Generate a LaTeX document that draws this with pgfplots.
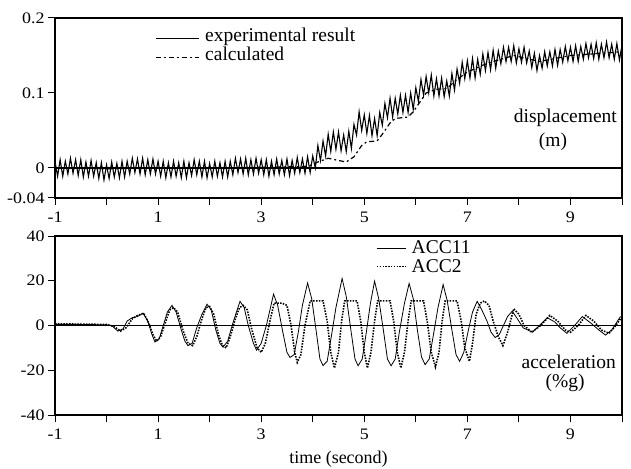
\documentclass[border=0pt]{standalone}
\usepackage{pgfplots}
\pgfplotsset{compat=1.18}
\usepackage{fontspec}
\setmainfont{Liberation Serif}
\newfontfamily\tickfont[FakeStretch=1.12]{Liberation Serif}
\newcommand\txtfont{\fontsize{19.5}{19.5}\selectfont}
\pgfplotsset{
  myaxis/.style={
    scale only axis, width=567pt,
    xmin=-1, xmax=10,
    axis line style={line width=1.2pt},
    tick style={black, line width=1pt},
    major tick length=7pt,
    tick align=outside,
    xtick pos=left, ytick pos=left,
    xtick={-1,0,1,2,3,4,5,6,7,8,9,10},
    xticklabels={-1,,1,,3,,5,,7,,9,},
    tick label style={font=\fontsize{16}{16}\selectfont\tickfont},
    xticklabel style={yshift=-3pt},
    label style={font=\fontsize{18}{18}\selectfont},
    xlabel style={yshift=-5pt},
    legend style={draw=none, fill=none, font=\txtfont,
      row sep=0pt, inner sep=0pt},
    legend cell align=left,
  },
}
\begin{document}
\begin{tikzpicture}
\path[use as bounding box] (0pt,0pt) rectangle (631pt,468pt);
% top axis
\begin{axis}[myaxis, name=top, at={(55pt,270pt)}, anchor=south west, height=180pt,
  ymin=-0.04, ymax=0.2,
  ytick={-0.04,0,0.1,0.2}, yticklabels={-0.04,0,0.1,0.2},
  legend style={at={(rel axis cs:0.176,0.955)}, anchor=north west},
  legend image code/.code={\draw[#1] (0pt,-3pt) -- (43pt,-3pt); \path (47pt,0pt);},
]
\addplot[black, line width=1.1pt] coordinates {
(-1.00,0.009)(-0.95,-0.011)(-0.90,0.011)(-0.85,-0.011)(-0.80,0.009)(-0.75,-0.008)(-0.70,0.013)(-0.65,-0.007)(-0.60,0.011)(-0.55,-0.010)
(-0.50,0.011)(-0.45,-0.012)(-0.40,0.008)(-0.35,-0.011)(-0.30,0.010)(-0.25,-0.011)(-0.20,0.007)(-0.15,-0.014)(-0.10,0.007)(-0.05,-0.016)
(0.00,0.004)(0.05,-0.014)(0.10,0.008)(0.15,-0.012)(0.20,0.006)(0.25,-0.013)(0.30,0.009)(0.35,-0.012)(0.40,0.009)(0.45,-0.008)
(0.50,0.013)(0.55,-0.006)(0.60,0.012)(0.65,-0.008)(0.70,0.013)(0.75,-0.009)(0.80,0.011)(0.85,-0.008)(0.90,0.012)(0.95,-0.008)
(1.00,0.009)(1.05,-0.011)(1.10,0.009)(1.15,-0.013)(1.20,0.007)(1.25,-0.012)(1.30,0.009)(1.35,-0.011)(1.40,0.007)(1.45,-0.013)
(1.50,0.009)(1.55,-0.013)(1.60,0.007)(1.65,-0.010)(1.70,0.011)(1.75,-0.009)(1.80,0.009)(1.85,-0.012)(1.90,0.009)(1.95,-0.013)
(2.00,0.006)(2.05,-0.012)(2.10,0.009)(2.15,-0.011)(2.20,0.007)(2.25,-0.012)(2.30,0.009)(2.35,-0.012)(2.40,0.009)(2.45,-0.009)
(2.50,0.013)(2.55,-0.006)(2.60,0.012)(2.65,-0.008)(2.70,0.013)(2.75,-0.009)(2.80,0.011)(2.85,-0.008)(2.90,0.013)(2.95,-0.007)
(3.00,0.011)(3.05,-0.009)(3.10,0.011)(3.15,-0.011)(3.20,0.009)(3.25,-0.009)(3.30,0.012)(3.35,-0.008)(3.40,0.010)(3.45,-0.009)
(3.50,0.012)(3.55,-0.010)(3.60,0.010)(3.65,-0.007)(3.70,0.014)(3.75,-0.006)(3.80,0.012)(3.85,-0.007)(3.90,0.015)(3.95,-0.006)
(4.00,0.016)(4.05,0.000)(4.10,0.030)(4.15,0.010)(4.20,0.036)(4.25,0.016)(4.30,0.045)(4.35,0.022)(4.40,0.048)(4.45,0.025)
(4.50,0.048)(4.55,0.023)(4.60,0.044)(4.65,0.022)(4.70,0.049)(4.75,0.026)(4.80,0.058)(4.85,0.044)(4.90,0.075)(4.95,0.050)
(5.00,0.071)(5.05,0.046)(5.10,0.070)(5.15,0.043)(5.20,0.066)(5.25,0.043)(5.30,0.074)(5.35,0.057)(5.40,0.086)(5.45,0.067)
(5.50,0.093)(5.55,0.068)(5.60,0.093)(5.65,0.072)(5.70,0.097)(5.75,0.074)(5.80,0.097)(5.85,0.074)(5.90,0.100)(5.95,0.078)
(6.00,0.107)(6.05,0.089)(6.10,0.118)(6.15,0.097)(6.20,0.122)(6.25,0.100)(6.30,0.124)(6.35,0.096)(6.40,0.119)(6.45,0.096)
(6.50,0.120)(6.55,0.095)(6.60,0.116)(6.65,0.096)(6.70,0.126)(6.75,0.104)(6.80,0.132)(6.85,0.113)(6.90,0.141)(6.95,0.119)
(7.00,0.143)(7.05,0.120)(7.10,0.146)(7.15,0.120)(7.20,0.145)(7.25,0.125)(7.30,0.152)(7.35,0.130)(7.40,0.154)(7.45,0.131)
(7.50,0.157)(7.55,0.133)(7.60,0.156)(7.65,0.139)(7.70,0.161)(7.75,0.142)(7.80,0.161)(7.85,0.142)(7.90,0.163)(7.95,0.140)
(8.00,0.159)(8.05,0.141)(8.10,0.161)(8.15,0.140)(8.20,0.156)(8.25,0.134)(8.30,0.153)(8.35,0.130)(8.40,0.150)(8.45,0.133)
(8.50,0.155)(8.55,0.136)(8.60,0.155)(8.65,0.136)(8.70,0.158)(8.75,0.137)(8.80,0.158)(8.85,0.141)(8.90,0.162)(8.95,0.143)
(9.00,0.161)(9.05,0.142)(9.10,0.163)(9.15,0.142)(9.20,0.162)(9.25,0.145)(9.30,0.166)(9.35,0.147)(9.40,0.165)(9.45,0.146)
(9.50,0.167)(9.55,0.145)(9.60,0.165)(9.65,0.147)(9.70,0.168)(9.75,0.147)(9.80,0.165)(9.85,0.145)(9.90,0.166)(9.95,0.144)
(10.00,0.164)
};
\addlegendentry{experimental result}
\addplot[black, line width=1.2pt, dash pattern=on 5pt off 3pt on 2pt off 3pt] coordinates {
(-1,0)(0,-0.001)(1,0)(2,0)(3,0.001)(3.9,0.002)(4.1,0.008)(4.3,0.013)(4.5,0.010)(4.65,0.008)
(4.8,0.015)(4.95,0.030)(5.05,0.035)(5.25,0.036)(5.35,0.045)(5.5,0.060)(5.6,0.066)(5.85,0.068)
(5.95,0.075)(6.05,0.085)(6.2,0.100)(6.4,0.105)(6.6,0.106)(6.8,0.118)(7.0,0.128)(7.4,0.140)
(7.9,0.150)(8.4,0.142)(9,0.150)(10,0.155)
};
\addlegendentry{calculated}
\addplot[black, line width=1.2pt, forget plot] coordinates {(-1,0)(10,0)};
\end{axis}
% bottom axis
\begin{axis}[myaxis, name=bot, at={(55pt,53pt)}, anchor=south west, height=179pt,
  ymin=-40, ymax=40,
  ytick={-40,-20,0,20,40}, yticklabels={-40,-20,0,20,40},
  xlabel={time (second)},
  legend style={at={(rel axis cs:0.566,0.985)}, anchor=north west},
  legend image code/.code={\draw[#1] (0pt,0pt) -- (29pt,0pt); \path (32pt,0pt);},
]
\addplot[black, line width=0.8pt] coordinates {
(-1,0.5)(-0.5,0.5)(0,0.3)(0.1,0)(0.22,-2.5)(0.32,-1.5)(0.4,2)(0.5,3.5)(0.6,4)(0.71,5.5)
(0.8,2)(0.88,-4)(0.94,-7.4)(1.02,-6)(1.1,0)(1.18,6)(1.27,9)(1.35,6)(1.45,-2)(1.52,-7)
(1.58,-9)(1.66,-8)(1.75,-1)(1.85,5)(1.95,9.5)(2.03,7)(2.12,-2)(2.2,-8)(2.26,-9.7)(2.35,-7)
(2.45,1)(2.52,6)(2.59,10.8)(2.67,8)(2.75,0)(2.85,-8)(2.91,-11)(3.0,-8)(3.1,0)(3.18,8)
(3.24,14)(3.32,9)(3.42,-3)(3.5,-12)(3.56,-14.3)(3.64,-13)(3.72,-3)(3.8,9)(3.9,19)(3.98,12)
(4.07,-3)(4.14,-15)(4.2,-17.9)(4.28,-16)(4.36,-5)(4.45,8)(4.57,21)(4.65,13)(4.74,-2)(4.82,-15)
(4.88,-18)(4.96,-15)(5.04,-3)(5.12,10)(5.2,19.8)(5.28,12)(5.37,-2)(5.45,-15)(5.52,-18)(5.6,-15)
(5.68,-3)(5.78,10)(5.87,18.8)(5.95,12)(6.03,-2)(6.11,-14)(6.18,-17.5)(6.26,-15)(6.35,-3)(6.43,8)
(6.53,18.3)(6.61,11)(6.7,-2)(6.78,-13)(6.85,-16)(6.93,-12)(7.02,-2)(7.1,6)(7.19,10.8)(7.28,7)
(7.38,2)(7.46,-3)(7.54,-5.4)(7.62,-4)(7.7,0)(7.78,4)(7.87,6.4)(7.97,3)(8.08,-1)(8.26,-3)
(8.4,0)(8.55,3.5)(8.7,1.5)(8.8,-1)(8.93,-3.5)(9.08,0)(9.23,4)(9.4,1)(9.55,-2)(9.68,-4.3)
(9.8,-2)(9.97,4)
};
\addlegendentry{ACC11}
\addplot[black, line width=1.6pt, dash pattern=on 1.5pt off 1.3pt] coordinates {
(-1,0.8)(-0.5,0.6)(0,0.5)(0.15,-0.5)(0.27,-2.5)(0.38,-1)(0.5,3)(0.6,4.5)(0.72,5.5)(0.82,1)
(0.9,-4)(0.97,-7)(1.05,-5)(1.15,2)(1.23,7)(1.3,8)(1.38,6)(1.48,-2)(1.58,-8)(1.67,-9)
(1.75,-5)(1.85,3)(1.93,8)(2.0,8.5)(2.08,5)(2.17,-4)(2.25,-9)(2.32,-10)(2.4,-5)(2.5,3)
(2.58,8)(2.65,9)(2.73,7)(2.82,-2)(2.92,-10)(3.0,-12)(3.08,-8)(3.17,2)(3.25,10)(3.4,10)
(3.5,9)(3.58,0)(3.65,-12)(3.7,-16.5)(3.77,-13)(3.85,0)(3.95,11)(4.2,11)(4.28,2)(4.35,-12)
(4.42,-19)(4.5,-12)(4.56,2)(4.62,11)(4.86,11)(4.93,2)(5.0,-12)(5.06,-19)(5.13,-12)(5.2,2)
(5.26,11)(5.5,11)(5.57,2)(5.64,-12)(5.71,-19)(5.78,-12)(5.85,2)(5.91,11)(6.15,11)(6.22,2)
(6.3,-12)(6.38,-18.5)(6.45,-12)(6.51,2)(6.57,11)(6.8,11)(6.88,2)(6.95,-10)(7.04,-16)(7.1,-8)
(7.17,5)(7.25,10)(7.33,11)(7.42,9)(7.5,2)(7.6,-5)(7.69,-9)(7.78,-3)(7.9,7.5)(8.0,5)
(8.1,0)(8.25,-3)(8.42,0)(8.6,4.5)(8.75,2)(8.9,-2)(9.0,-3)(9.15,0)(9.3,4.5)(9.45,2)
(9.6,-2)(9.75,-3.5)(9.88,0)(10,4)
};
\addlegendentry{ACC2}
\addplot[black, line width=1.2pt, forget plot] coordinates {(-1,0)(10,0)};
\end{axis}
\node[font=\txtfont, anchor=base east, inner sep=0pt] at (617pt,345.5pt) {displacement};
\node[font=\txtfont, anchor=base, inner sep=0pt] at (553pt,321.5pt) {(m)};
\node[font=\txtfont, anchor=base east, inner sep=0pt] at (616pt,99pt) {acceleration};
\node[font=\txtfont, anchor=base, inner sep=0pt] at (565pt,80pt) {(\%g)};
\end{tikzpicture}
\end{document}
